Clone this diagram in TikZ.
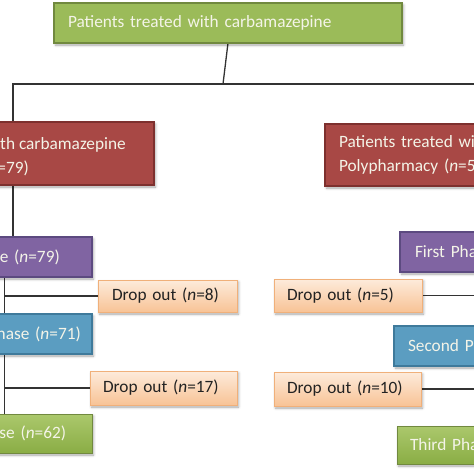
\documentclass[tikz,border=0pt]{standalone}
\usepackage{fontspec}
\setmainfont{Carlito}
\usetikzlibrary{shadows.blur}
\pgfdeclarelayer{background}
\pgfsetlayers{background,main}
\definecolor{gfill}{HTML}{9BBB59}
\definecolor{gdraw}{HTML}{71893F}
\definecolor{gtop}{HTML}{ABC86C}
\definecolor{gbot}{HTML}{8AAD45}
\definecolor{pfill}{HTML}{8064A2}
\definecolor{pdraw}{HTML}{5C4A80}
\definecolor{bfill}{HTML}{5B9DC1}
\definecolor{bdraw}{HTML}{3F7A9B}
\definecolor{rfill}{HTML}{A84845}
\definecolor{rdraw}{HTML}{7D302E}
\definecolor{otop}{HTML}{FDEBDB}
\definecolor{obot}{HTML}{F8C396}
\definecolor{odraw}{HTML}{F0B07A}
\definecolor{ltext}{HTML}{F4F4E8}
\definecolor{dtext}{HTML}{222222}
\definecolor{linec}{HTML}{333333}
\begin{document}
\begin{tikzpicture}[x=1pt,y=-1pt,
  box/.style={anchor=north west, draw, line width=1.6pt, inner xsep=14pt, inner ysep=0pt,
    outer sep=0pt, align=left, font=\fontsize{17.3}{24}\selectfont, text=ltext,
    blur shadow={shadow xshift=1.5pt, shadow yshift=-2pt, shadow opacity=35, shadow blur radius=2.5pt}},
  greenbox/.style={box, fill=gfill, draw=gdraw},
  greengrad/.style={box, top color=gtop, bottom color=gbot, draw=gdraw, line width=1pt},
  purplebox/.style={box, fill=pfill, draw=pdraw},
  bluebox/.style={box, fill=bfill, draw=bdraw},
  redbox/.style={box, fill=rfill, draw=rdraw},
  dropbox/.style={box, top color=otop, bottom color=obot, draw=odraw, line width=1pt, text=dtext},
  redtext/.style={font=\fontsize{17.3}{24}\selectfont, text=ltext, inner sep=0pt},
  conn/.style={draw=linec, line width=1.3pt}
]
\useasboundingbox (0,0) rectangle (474,474);
\clip (0,0) rectangle (474,474);

\node[greenbox, text width=320pt, minimum height=40pt] (tb) at (54,3) {Patients treated with carbamazepine};

\node[redbox, minimum width=281pt, minimum height=63pt] (lred) at (-127,122) {};
\node[redtext, anchor=base east] (lredA) at (126,149) {Patients treated with carbamazepine};
\node[redtext, anchor=base east] (lredB) at (29,173) {Monotherapy (\textit{n}=79)};
\node[redbox, text width=302pt, minimum height=62pt] (rred) at (325,124) {Patients treated with\\Polypharmacy (\textit{n}=54)};

\node[purplebox, text width=147pt, minimum height=40pt] (lp1) at (-83,237) {\mbox{First Phase (\textit{n}=79)}};
\node[bluebox, text width=147pt, minimum height=40pt] (lp2) at (-83,314) {\mbox{Second Phase (\textit{n}=71)}};
\node[greengrad, text width=147pt, minimum height=39pt] (lp3) at (-83,414) {\mbox{Third Phase (\textit{n}=62)}};

\node[dropbox, text width=111pt, minimum height=32pt] (d8) at (98,280) {Drop out (\textit{n}=8)};
\node[dropbox, inner xsep=13pt, text width=121pt, minimum height=34pt] (d17) at (90,371) {Drop out (\textit{n}=17)};
\node[dropbox, inner xsep=13pt, text width=122pt, minimum height=33pt] (d5) at (274,279) {Drop out (\textit{n}=5)};
\node[dropbox, inner xsep=13pt, text width=121pt, minimum height=34pt] (d10) at (274,372) {Drop out (\textit{n}=10)};

\node[purplebox, inner xsep=15pt, text width=150pt, minimum height=40pt] (rp1) at (400,232) {\mbox{First Phase (\textit{n}=54)}};
\node[bluebox, text width=164pt, minimum height=40pt] (rp2) at (394,326) {\mbox{Second Phase (\textit{n}=49)}};
\node[greengrad, inner xsep=13pt, text width=160pt, minimum height=38pt] (rp3) at (397,426) {\mbox{Third Phase (\textit{n}=39)}};

\coordinate (split) at (223,84);
\coordinate (lc) at (13,84);

\begin{pgfonlayer}{background}
\draw[conn] (tb.south) -- (split);
\draw[conn] (lc |- lred.north) -- (lc) -- (split) -| (rred.north);
\draw[conn] (lc |- lred.south) -- (lc |- lp1.north);
\draw[conn] (lp1.south) -- (lp2.north);
\draw[conn] (lp2.south) -- (lp3.north);
\draw[conn] (lp1.south) |- (d8.west);
\draw[conn] (lp2.south) |- (d17.west);
\draw[conn] (rred.south) -- (rp1.north);
\draw[conn] (rp1.south) -- (rp2.north);
\draw[conn] (rp2.south) -- (rp3.north);
\draw[conn] (rp1.south) |- (d5.east);
\draw[conn] (rp2.south) |- (d10.east);
\end{pgfonlayer}
\end{tikzpicture}
\end{document}
